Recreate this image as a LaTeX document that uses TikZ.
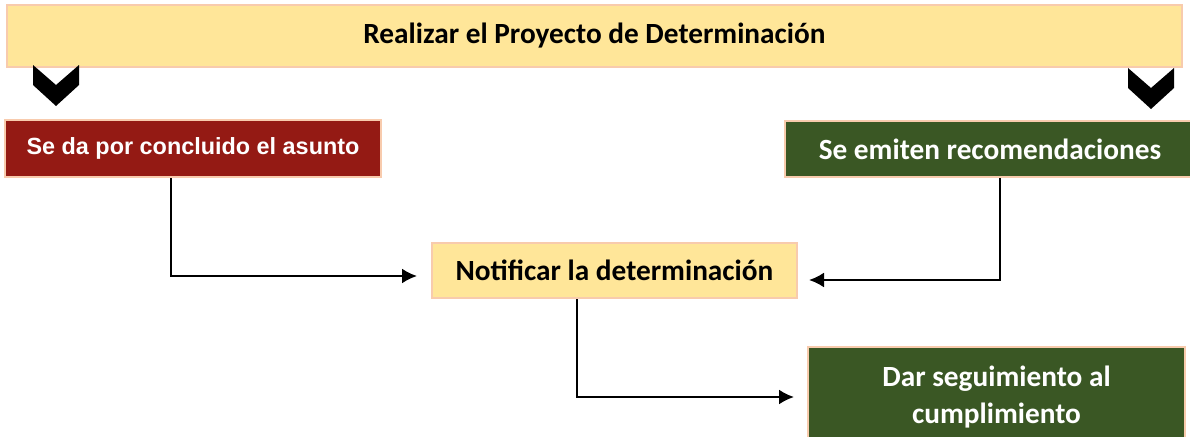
\documentclass[tikz,border=0pt]{standalone}
\usepackage{fontspec}
\setmainfont{Carlito}
\newfontfamily\arialfont{Liberation Sans}
\usepackage{tikz}
\usetikzlibrary{arrows.meta,positioning,calc}
\definecolor{paleyellow}{HTML}{FFE699}
\definecolor{darkred}{HTML}{941A14}
\definecolor{darkgreen}{HTML}{3A5724}
\definecolor{salmon}{HTML}{F8CBAD}

\tikzset{
  stepbox/.style={draw=salmon, line width=2pt, inner sep=0pt, align=center, font=\bfseries\fontsize{29.3}{37}\selectfont},
  link/.style={->, >={Latex[length=15pt,width=15pt]}, line width=2.2pt}
}

\begin{document}
\begin{tikzpicture}[x=1pt, y=-1pt]
      \useasboundingbox (0, 0) rectangle (1190, 436);
      \node (top_box) [stepbox, fill=paleyellow, minimum width=1175pt, minimum height=62pt] at (594.5, 36) {Realizar el Proyecto de Determinación};
      \node (closed_box) [stepbox, fill=darkred, text=white, minimum width=376pt, minimum height=57pt, font=\arialfont\bfseries\fontsize{23.4}{28}\selectfont] at (193, 148.5) {Se da por concluido el asunto};
      \node (advice_box) [stepbox, fill=darkgreen, text=white, minimum width=410pt, minimum height=56pt] at (990, 149) {Se emiten recomendaciones};
      \node (notify_box) [stepbox, fill=paleyellow, minimum width=365pt, minimum height=55pt] at (614.5, 270.5) {Notificar la determinación};
      \node (follow_box) [stepbox, fill=darkgreen, text=white, minimum width=377pt, minimum height=100pt] at (996.5, 397) {Dar seguimiento al\\cumplimiento};
      \fill (33, 65) -- (56, 85) -- (79, 65) -- (79, 85) -- (56, 106) -- (33, 85) -- cycle;
      \fill (1128, 68) -- (1151, 88) -- (1174, 68) -- (1174, 88) -- (1151, 109) -- (1128, 88) -- cycle;
      \draw [link, shorten >=14pt] ([xshift=-22pt]closed_box.south) |- ([yshift=-5.5pt]notify_box.west);
      \draw [link, shorten >=11pt] ([xshift=10pt]advice_box.south) |- ([yshift=-9.5pt]notify_box.east);
      \draw [link, shorten >=13pt] ([xshift=-37.5pt]notify_box.south) |- (follow_box.west);
    \end{tikzpicture}
\end{document}
